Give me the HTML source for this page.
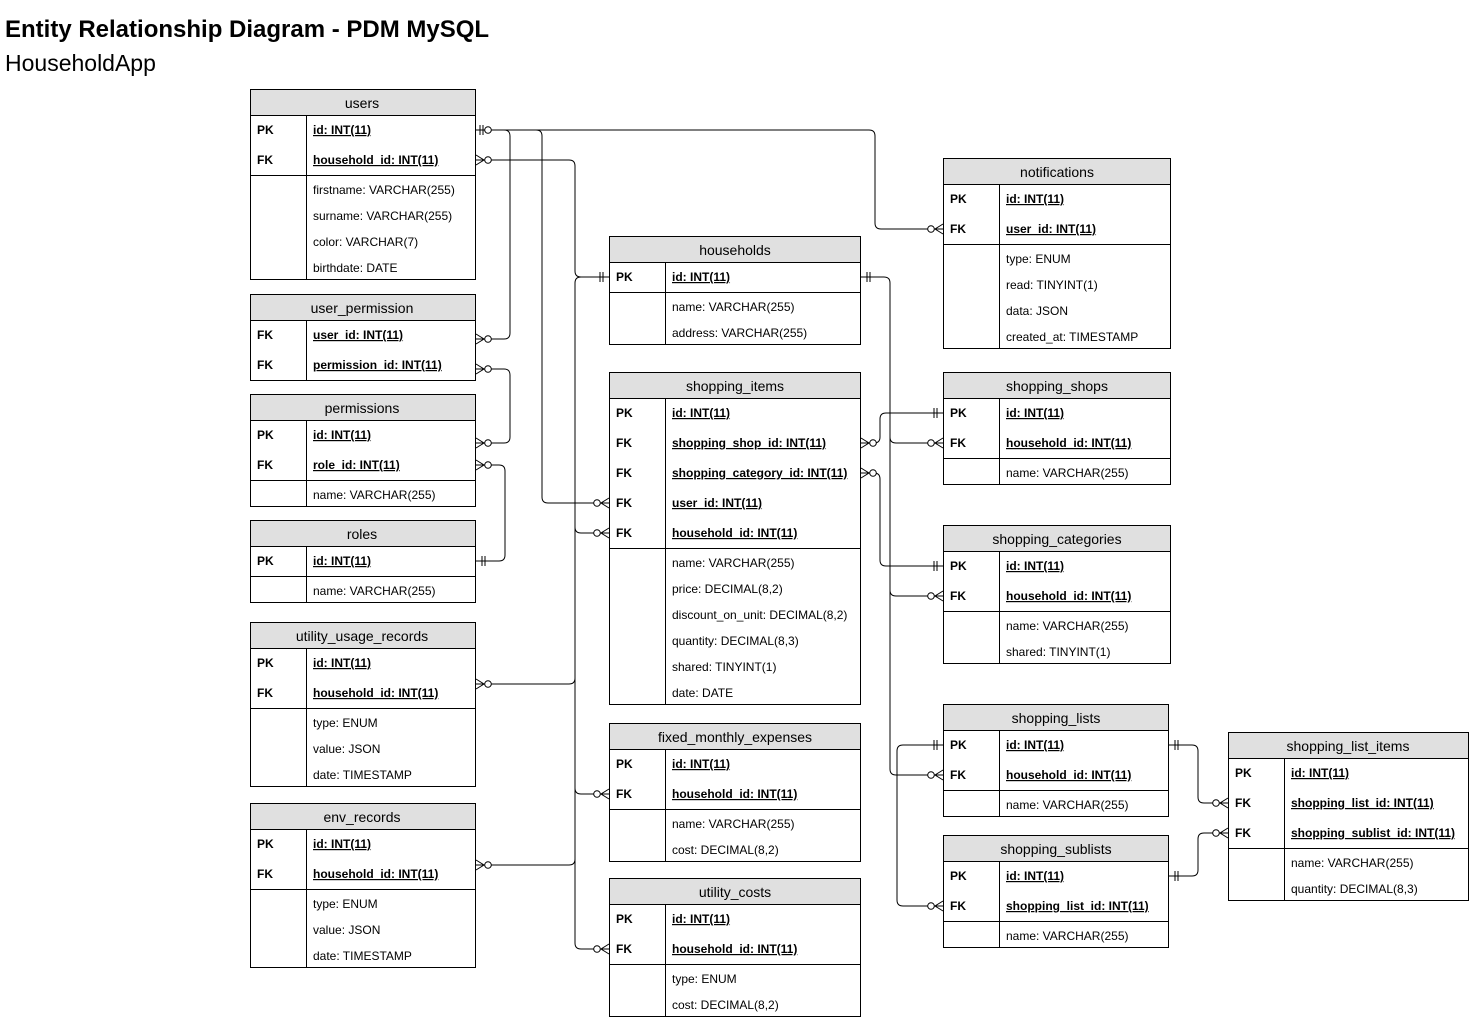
<!DOCTYPE html>
<html><head><meta charset="utf-8"><style>
body{margin:0;background:#fff}
svg{display:block;font-family:"Liberation Sans",Arial,sans-serif}
.h{font-size:14px;text-anchor:middle;fill:#000}
.k{font-size:12px;font-weight:bold}
.u{font-size:12px;font-weight:bold;text-decoration:underline}
.a{font-size:12px}
.hd{fill:#e0e0e0;stroke:#000;stroke-width:1}
.bx{fill:#fff;stroke:#000;stroke-width:1}
.ln{stroke:#000;stroke-width:1;fill:none}
</style></head><body>
<svg width="1469" height="1018" viewBox="0 0 1469 1018">
<defs>
<g id="many"><path d="M0,-5 L8,0 L0,5 M0,0 L8,0" class="ln"/><circle cx="12" cy="0" r="3.3" fill="#fff" stroke="#000"/></g>
<g id="one"><path d="M6,-5 V5 M9,-5 V5" class="ln"/></g>
<g id="onez"><path d="M4,-5 V5 M7,-5 V5" class="ln"/><circle cx="12" cy="0" r="3.3" fill="#fff" stroke="#000"/></g>
</defs>
<text x="5" y="37" style="font-size:24px;font-weight:bold">Entity Relationship Diagram - PDM MySQL</text>
<text x="5" y="71" style="font-size:23px">HouseholdApp</text>

<!-- connectors -->
<g class="ln">
<path d="M475,130 H869 Q875,130 875,136 V223 Q875,229 881,229 H943"/>
<path d="M475,130 H504 Q510,130 510,136 V333 Q510,339 504,339 H475"/>
<path d="M475,130 H536 Q542,130 542,136 V497 Q542,503 548,503 H609"/>
<path d="M475,160 H569 Q575,160 575,166 V271 Q575,277 581,277 H609"/>
<path d="M475,369 H504 Q510,369 510,375 V437 Q510,443 504,443 H475"/>
<path d="M475,465 H499 Q505,465 505,471 V555 Q505,561 499,561 H475"/>
<path d="M609,277 H581 Q575,277 575,283 V943 Q575,949 581,949 H609 M575,527 Q575,533 581,533 H609 M575,788 Q575,794 581,794 H609 M575,678 Q575,684 569,684 H475 M575,859 Q575,865 569,865 H475"/>
<path d="M860,277 H884 Q890,277 890,283 V769 Q890,775 896,775 H943 M890,437 Q890,443 896,443 H943 M890,590 Q890,596 896,596 H943"/>
<path d="M860,443 H874 Q880,443 880,437 V419 Q880,413 886,413 H943"/>
<path d="M860,473 H874 Q880,473 880,479 V560 Q880,566 886,566 H943"/>
<path d="M943,745 H903 Q897,745 897,751 V900 Q897,906 903,906 H943"/>
<path d="M1168,745 H1192 Q1198,745 1198,751 V797 Q1198,803 1204,803 H1228"/>
<path d="M1168,876 H1192 Q1198,876 1198,870 V839 Q1198,833 1204,833 H1228"/>
</g>

<!-- users -->
<rect class="hd" x="250.5" y="89.5" width="225" height="26"/><text class="h" x="362" y="108">users</text>
<rect class="bx" x="250.5" y="115.5" width="225" height="164"/>
<path class="ln" d="M250,175.5 H475 M306.5,115 V279"/>
<text class="k" x="257" y="134">PK</text><text class="u" x="313" y="134">id: INT(11)</text>
<text class="k" x="257" y="164">FK</text><text class="u" x="313" y="164">household_id: INT(11)</text>
<text class="a" x="313" y="194">firstname: VARCHAR(255)</text>
<text class="a" x="313" y="220">surname: VARCHAR(255)</text>
<text class="a" x="313" y="246">color: VARCHAR(7)</text>
<text class="a" x="313" y="272">birthdate: DATE</text>

<!-- user_permission -->
<rect class="hd" x="250.5" y="294.5" width="225" height="26"/><text class="h" x="362" y="313">user_permission</text>
<rect class="bx" x="250.5" y="320.5" width="225" height="60"/>
<path class="ln" d="M306.5,320 V380"/>
<text class="k" x="257" y="339">FK</text><text class="u" x="313" y="339">user_id: INT(11)</text>
<text class="k" x="257" y="369">FK</text><text class="u" x="313" y="369">permission_id: INT(11)</text>

<!-- permissions -->
<rect class="hd" x="250.5" y="394.5" width="225" height="26"/><text class="h" x="362" y="413">permissions</text>
<rect class="bx" x="250.5" y="420.5" width="225" height="86"/>
<path class="ln" d="M250,480.5 H475 M306.5,420 V506"/>
<text class="k" x="257" y="439">PK</text><text class="u" x="313" y="439">id: INT(11)</text>
<text class="k" x="257" y="469">FK</text><text class="u" x="313" y="469">role_id: INT(11)</text>
<text class="a" x="313" y="499">name: VARCHAR(255)</text>

<!-- roles -->
<rect class="hd" x="250.5" y="520.5" width="225" height="26"/><text class="h" x="362" y="539">roles</text>
<rect class="bx" x="250.5" y="546.5" width="225" height="56"/>
<path class="ln" d="M250,576.5 H475 M306.5,546 V602"/>
<text class="k" x="257" y="565">PK</text><text class="u" x="313" y="565">id: INT(11)</text>
<text class="a" x="313" y="595">name: VARCHAR(255)</text>

<!-- utility_usage_records -->
<rect class="hd" x="250.5" y="622.5" width="225" height="26"/><text class="h" x="362" y="641">utility_usage_records</text>
<rect class="bx" x="250.5" y="648.5" width="225" height="138"/>
<path class="ln" d="M250,708.5 H475 M306.5,648 V786"/>
<text class="k" x="257" y="667">PK</text><text class="u" x="313" y="667">id: INT(11)</text>
<text class="k" x="257" y="697">FK</text><text class="u" x="313" y="697">household_id: INT(11)</text>
<text class="a" x="313" y="727">type: ENUM</text>
<text class="a" x="313" y="753">value: JSON</text>
<text class="a" x="313" y="779">date: TIMESTAMP</text>

<!-- env_records -->
<rect class="hd" x="250.5" y="803.5" width="225" height="26"/><text class="h" x="362" y="822">env_records</text>
<rect class="bx" x="250.5" y="829.5" width="225" height="138"/>
<path class="ln" d="M250,889.5 H475 M306.5,829 V967"/>
<text class="k" x="257" y="848">PK</text><text class="u" x="313" y="848">id: INT(11)</text>
<text class="k" x="257" y="878">FK</text><text class="u" x="313" y="878">household_id: INT(11)</text>
<text class="a" x="313" y="908">type: ENUM</text>
<text class="a" x="313" y="934">value: JSON</text>
<text class="a" x="313" y="960">date: TIMESTAMP</text>

<!-- households -->
<rect class="hd" x="609.5" y="236.5" width="251" height="26"/><text class="h" x="735" y="255">households</text>
<rect class="bx" x="609.5" y="262.5" width="251" height="82"/>
<path class="ln" d="M609,292.5 H860 M665.5,262 V344"/>
<text class="k" x="616" y="281">PK</text><text class="u" x="672" y="281">id: INT(11)</text>
<text class="a" x="672" y="311">name: VARCHAR(255)</text>
<text class="a" x="672" y="337">address: VARCHAR(255)</text>

<!-- shopping_items -->
<rect class="hd" x="609.5" y="372.5" width="251" height="26"/><text class="h" x="735" y="391">shopping_items</text>
<rect class="bx" x="609.5" y="398.5" width="251" height="306"/>
<path class="ln" d="M609,548.5 H860 M665.5,398 V704"/>
<text class="k" x="616" y="417">PK</text><text class="u" x="672" y="417">id: INT(11)</text>
<text class="k" x="616" y="447">FK</text><text class="u" x="672" y="447">shopping_shop_id: INT(11)</text>
<text class="k" x="616" y="477">FK</text><text class="u" x="672" y="477">shopping_category_id: INT(11)</text>
<text class="k" x="616" y="507">FK</text><text class="u" x="672" y="507">user_id: INT(11)</text>
<text class="k" x="616" y="537">FK</text><text class="u" x="672" y="537">household_id: INT(11)</text>
<text class="a" x="672" y="567">name: VARCHAR(255)</text>
<text class="a" x="672" y="593">price: DECIMAL(8,2)</text>
<text class="a" x="672" y="619">discount_on_unit: DECIMAL(8,2)</text>
<text class="a" x="672" y="645">quantity: DECIMAL(8,3)</text>
<text class="a" x="672" y="671">shared: TINYINT(1)</text>
<text class="a" x="672" y="697">date: DATE</text>

<!-- fixed_monthly_expenses -->
<rect class="hd" x="609.5" y="723.5" width="251" height="26"/><text class="h" x="735" y="742">fixed_monthly_expenses</text>
<rect class="bx" x="609.5" y="749.5" width="251" height="112"/>
<path class="ln" d="M609,809.5 H860 M665.5,749 V861"/>
<text class="k" x="616" y="768">PK</text><text class="u" x="672" y="768">id: INT(11)</text>
<text class="k" x="616" y="798">FK</text><text class="u" x="672" y="798">household_id: INT(11)</text>
<text class="a" x="672" y="828">name: VARCHAR(255)</text>
<text class="a" x="672" y="854">cost: DECIMAL(8,2)</text>

<!-- utility_costs -->
<rect class="hd" x="609.5" y="878.5" width="251" height="26"/><text class="h" x="735" y="897">utility_costs</text>
<rect class="bx" x="609.5" y="904.5" width="251" height="112"/>
<path class="ln" d="M609,964.5 H860 M665.5,904 V1016"/>
<text class="k" x="616" y="923">PK</text><text class="u" x="672" y="923">id: INT(11)</text>
<text class="k" x="616" y="953">FK</text><text class="u" x="672" y="953">household_id: INT(11)</text>
<text class="a" x="672" y="983">type: ENUM</text>
<text class="a" x="672" y="1009">cost: DECIMAL(8,2)</text>

<!-- notifications -->
<rect class="hd" x="943.5" y="158.5" width="227" height="26"/><text class="h" x="1057" y="177">notifications</text>
<rect class="bx" x="943.5" y="184.5" width="227" height="164"/>
<path class="ln" d="M943,244.5 H1170 M999.5,184 V348"/>
<text class="k" x="950" y="203">PK</text><text class="u" x="1006" y="203">id: INT(11)</text>
<text class="k" x="950" y="233">FK</text><text class="u" x="1006" y="233">user_id: INT(11)</text>
<text class="a" x="1006" y="263">type: ENUM</text>
<text class="a" x="1006" y="289">read: TINYINT(1)</text>
<text class="a" x="1006" y="315">data: JSON</text>
<text class="a" x="1006" y="341">created_at: TIMESTAMP</text>

<!-- shopping_shops -->
<rect class="hd" x="943.5" y="372.5" width="227" height="26"/><text class="h" x="1057" y="391">shopping_shops</text>
<rect class="bx" x="943.5" y="398.5" width="227" height="86"/>
<path class="ln" d="M943,458.5 H1170 M999.5,398 V484"/>
<text class="k" x="950" y="417">PK</text><text class="u" x="1006" y="417">id: INT(11)</text>
<text class="k" x="950" y="447">FK</text><text class="u" x="1006" y="447">household_id: INT(11)</text>
<text class="a" x="1006" y="477">name: VARCHAR(255)</text>

<!-- shopping_categories -->
<rect class="hd" x="943.5" y="525.5" width="227" height="26"/><text class="h" x="1057" y="544">shopping_categories</text>
<rect class="bx" x="943.5" y="551.5" width="227" height="112"/>
<path class="ln" d="M943,611.5 H1170 M999.5,551 V663"/>
<text class="k" x="950" y="570">PK</text><text class="u" x="1006" y="570">id: INT(11)</text>
<text class="k" x="950" y="600">FK</text><text class="u" x="1006" y="600">household_id: INT(11)</text>
<text class="a" x="1006" y="630">name: VARCHAR(255)</text>
<text class="a" x="1006" y="656">shared: TINYINT(1)</text>

<!-- shopping_lists -->
<rect class="hd" x="943.5" y="704.5" width="225" height="26"/><text class="h" x="1056" y="723">shopping_lists</text>
<rect class="bx" x="943.5" y="730.5" width="225" height="86"/>
<path class="ln" d="M943,790.5 H1168 M999.5,730 V816"/>
<text class="k" x="950" y="749">PK</text><text class="u" x="1006" y="749">id: INT(11)</text>
<text class="k" x="950" y="779">FK</text><text class="u" x="1006" y="779">household_id: INT(11)</text>
<text class="a" x="1006" y="809">name: VARCHAR(255)</text>

<!-- shopping_sublists -->
<rect class="hd" x="943.5" y="835.5" width="225" height="26"/><text class="h" x="1056" y="854">shopping_sublists</text>
<rect class="bx" x="943.5" y="861.5" width="225" height="86"/>
<path class="ln" d="M943,921.5 H1168 M999.5,861 V947"/>
<text class="k" x="950" y="880">PK</text><text class="u" x="1006" y="880">id: INT(11)</text>
<text class="k" x="950" y="910">FK</text><text class="u" x="1006" y="910">shopping_list_id: INT(11)</text>
<text class="a" x="1006" y="940">name: VARCHAR(255)</text>

<!-- shopping_list_items -->
<rect class="hd" x="1228.5" y="732.5" width="240" height="26"/><text class="h" x="1348" y="751">shopping_list_items</text>
<rect class="bx" x="1228.5" y="758.5" width="240" height="142"/>
<path class="ln" d="M1228,848.5 H1468 M1284.5,758 V900"/>
<text class="k" x="1235" y="777">PK</text><text class="u" x="1291" y="777">id: INT(11)</text>
<text class="k" x="1235" y="807">FK</text><text class="u" x="1291" y="807">shopping_list_id: INT(11)</text>
<text class="k" x="1235" y="837">FK</text><text class="u" x="1291" y="837">shopping_sublist_id: INT(11)</text>
<text class="a" x="1291" y="867">name: VARCHAR(255)</text>
<text class="a" x="1291" y="893">quantity: DECIMAL(8,3)</text>

<!-- markers -->
<use href="#onez" transform="translate(476,130)"/>
<use href="#many" transform="translate(476,160)"/>
<use href="#many" transform="translate(476,339)"/>
<use href="#many" transform="translate(476,369)"/>
<use href="#many" transform="translate(476,443)"/>
<use href="#many" transform="translate(476,465)"/>
<use href="#one" transform="translate(476,561)"/>
<use href="#many" transform="translate(476,684)"/>
<use href="#many" transform="translate(476,865)"/>
<use href="#one" transform="translate(609,277) scale(-1,1)"/>
<use href="#one" transform="translate(861,277)"/>
<use href="#many" transform="translate(609,503) scale(-1,1)"/>
<use href="#many" transform="translate(609,533) scale(-1,1)"/>
<use href="#many" transform="translate(609,794) scale(-1,1)"/>
<use href="#many" transform="translate(609,949) scale(-1,1)"/>
<use href="#many" transform="translate(861,443)"/>
<use href="#many" transform="translate(861,473)"/>
<use href="#many" transform="translate(943,229) scale(-1,1)"/>
<use href="#one" transform="translate(943,413) scale(-1,1)"/>
<use href="#many" transform="translate(943,443) scale(-1,1)"/>
<use href="#one" transform="translate(943,566) scale(-1,1)"/>
<use href="#many" transform="translate(943,596) scale(-1,1)"/>
<use href="#one" transform="translate(943,745) scale(-1,1)"/>
<use href="#many" transform="translate(943,775) scale(-1,1)"/>
<use href="#many" transform="translate(943,906) scale(-1,1)"/>
<use href="#one" transform="translate(1169,745)"/>
<use href="#one" transform="translate(1169,876)"/>
<use href="#many" transform="translate(1228,803) scale(-1,1)"/>
<use href="#many" transform="translate(1228,833) scale(-1,1)"/>
</svg>
</body></html>
